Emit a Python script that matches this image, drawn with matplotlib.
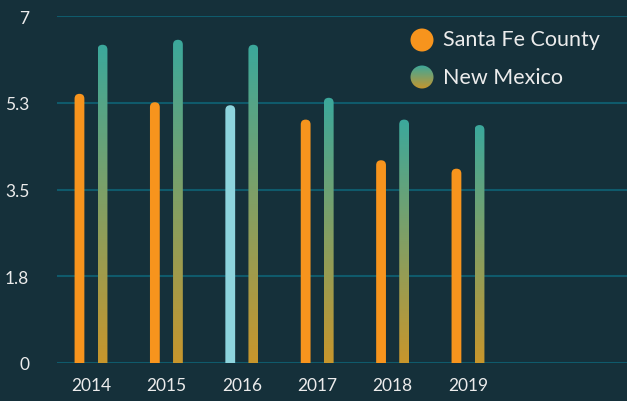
import numpy as np
import matplotlib.pyplot as plt
from matplotlib.patches import FancyBboxPatch, Circle
from matplotlib.colors import LinearSegmentedColormap

# data
years = ['2014', '2015', '2016', '2017', '2018', '2019']
santa_fe = [5.43, 5.26, 5.20, 4.91, 4.09, 3.92]
new_mexico = [6.42, 6.52, 6.42, 5.35, 4.91, 4.80]
y_ticks = [0, 1.75, 3.5, 5.25, 7]
y_tick_labels = ['0', '1.8', '3.5', '5.3', '7']
highlight_year = '2016'

bg = '#15303a'
grid_col = '#0f5a6b'
text_col = '#ececec'
orange = '#f7941d'
light_blue = '#8dd4dd'
grad = LinearSegmentedColormap.from_list('nm', ['#c8962c', '#3ba89c'])

plt.rcParams['font.family'] = ['Lato', 'DejaVu Sans']

fig = plt.figure(figsize=(6.27, 4.02), dpi=100, facecolor=bg)
ax = fig.add_axes([57 / 627, 38 / 402, 570 / 627, 347 / 402])
ax.set_facecolor(bg)

for s in ax.spines.values():
    s.set_visible(False)
for t in y_ticks:
    ax.axhline(t, color=grid_col, lw=1.5, zorder=1)

x_lo, x_hi = -0.451, 7.109

# aspect for circular caps: y data per pixel / x data per pixel
px_x = (x_hi - x_lo) / 570
px_y = 7 / 347
aspect = px_y / px_x

w = 0.13
off = 0.153
x = np.arange(len(years))
grad_img = np.linspace(0, 1, 256).reshape(-1, 1)


def rounded_bar(xc, v):
    p = FancyBboxPatch((xc - w / 2, -1), w, v + 1,
                       boxstyle=f'round,pad=0,rounding_size={w / 2}',
                       mutation_aspect=aspect, lw=0)
    return p


for i, yr in enumerate(years):
    c = light_blue if yr == highlight_year else orange
    p = rounded_bar(x[i] - off, santa_fe[i])
    p.set_facecolor(c)
    p.set_zorder(3)
    ax.add_patch(p)

    # New Mexico bars: gradient clipped to the rounded bar shape
    p2 = rounded_bar(x[i] + off, new_mexico[i])
    p2.set_facecolor('none')
    ax.add_patch(p2)
    im = ax.imshow(grad_img, cmap=grad, origin='lower', aspect='auto',
                   extent=(x[i] + off - w / 2, x[i] + off + w / 2, 0, new_mexico[i]),
                   zorder=3)
    im.set_clip_path(p2)

ax.set_xlim(x_lo, x_hi)
ax.set_ylim(0, 7)

ax.set_yticks(y_ticks)
ax.set_yticklabels(y_tick_labels)
ax.set_xticks(x)
ax.set_xticklabels(years)
ax.tick_params(length=0, colors=text_col, labelsize=12.5)
ax.tick_params(axis='y', pad=20)
ax.tick_params(axis='x', pad=10)

# legend drawn by hand in figure pixels
H = 402
leg_ax = fig.add_axes([0, 0, 1, 1], facecolor='none')
leg_ax.axis('off')
leg_ax.add_patch(Circle((422, H - 41), 11.5, color=orange, lw=0))
c2 = Circle((422, H - 78), 11.5, facecolor='none', lw=0)
leg_ax.add_patch(c2)
im = leg_ax.imshow(grad_img, cmap=grad, origin='lower', aspect='auto',
                   extent=(410, 434, H - 90, H - 66))
im.set_clip_path(c2)
leg_ax.set_xlim(0, 627)
leg_ax.set_ylim(0, H)
leg_ax.text(443, H - 40, 'Santa Fe County', color=text_col, fontsize=15.5, va='center')
leg_ax.text(443, H - 78, 'New Mexico', color=text_col, fontsize=15.5, va='center')

fig.savefig('out.png', dpi=100, facecolor=bg)
